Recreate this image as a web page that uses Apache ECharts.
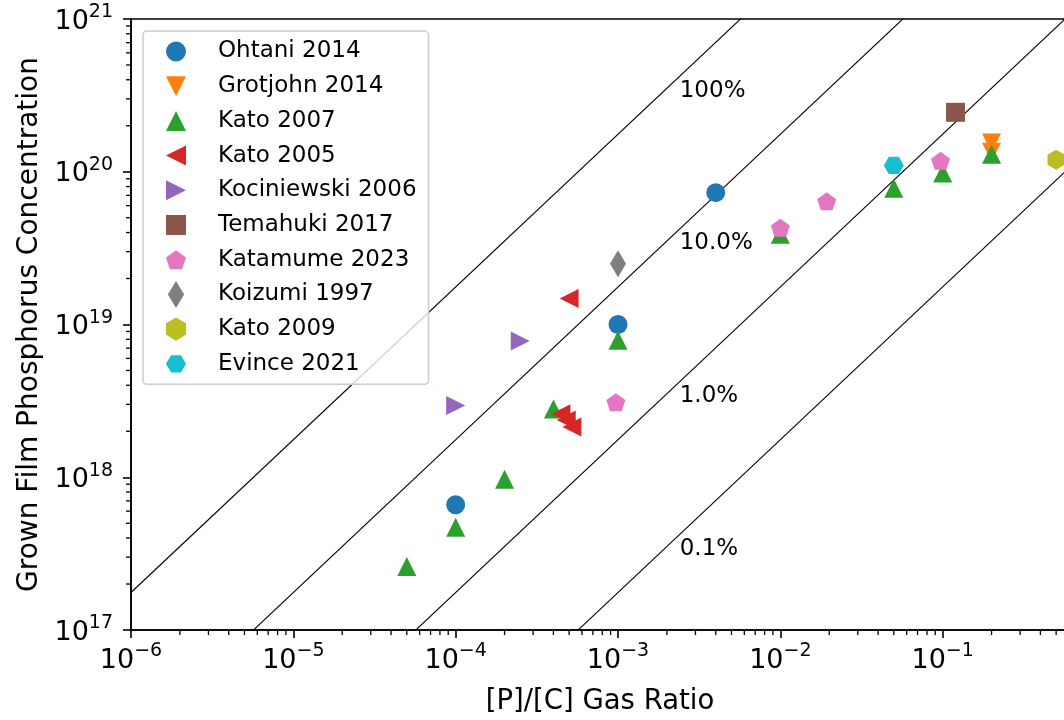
<!DOCTYPE html>
<html>
<head>
<meta charset="utf-8">
<script src="https://cdn.jsdelivr.net/npm/echarts@6/dist/echarts.min.js"></script>
<style>
  html, body { margin: 0; padding: 0; background: #ffffff; }
  #chart { width: 1064px; height: 720px; }
</style>
</head>
<body>
<div id="chart"></div>
<script>
// ---- data: [P]/[C] gas ratio vs. phosphorus concentration (cm^-3) ----
const ohtani2014     = [[0.004, 7.3e19], [1e-3, 1.0e19], [1e-4, 6.6e17]];
const grotjohn2014   = [[0.2, 1.54e20], [0.2, 1.34e20]];
const kato2007       = [[5e-5, 2.6e17], [1e-4, 4.7e17], [2e-4, 9.7e17], [4e-4, 2.8e18],
                        [1e-3, 7.9e18], [1e-2, 3.9e19], [0.05, 7.8e19], [0.1, 9.8e19], [0.2, 1.3e20]];
const kato2005       = [[5e-4, 1.48e19], [4.45e-4, 2.6e18], [4.8e-4, 2.37e18], [5.2e-4, 2.13e18]];
const kociniewski2006= [[2.5e-4, 7.8e18], [1e-4, 2.95e18]];
const temahuki2017   = [[0.12, 2.45e20]];
const katamume2023   = [[9.7e-4, 3.1e18], [1e-2, 4.3e19], [0.0193, 6.4e19], [0.097, 1.18e20]];
const koizumi1997    = [[1e-3, 2.5e19]];
const kato2009       = [[0.5, 1.2e20]];
const evince2021     = [[0.05, 1.1e20]];

// incorporation-efficiency guide lines: [P]film = eff * n_C * [P]/[C]
const CARBON_DENSITY = 1.76e23;
const efficiencies   = [1, 0.1, 0.01, 0.001];
const effLabels      = ['100%', '10.0%', '1.0%', '0.1%'];
const effLabelX      = 2.4e-3;
const effLabelY      = [3.4e20, 3.4e19, 3.4e18, 3.4e17];

// axis ranges
const X_MIN = 1e-6, X_MAX = 0.6;
const Y_MIN = 1e17, Y_MAX = 1e21;

const COLORS = ['#1f77b4', '#ff7f0e', '#2ca02c', '#d62728', '#9467bd',
                '#8c564b', '#e377c2', '#7f7f7f', '#bcbd22', '#17becf'];

// marker shapes
const SYM = {
  triDown:  'path://M-100,-100 L100,-100 L0,100 Z',
  triUp:    'path://M0,-100 L100,100 L-100,100 Z',
  triLeft:  'path://M-100,0 L100,-100 L100,100 Z',
  triRight: 'path://M100,0 L-100,-100 L-100,100 Z',
  square:   'path://M-100,-100 L100,-100 L100,100 L-100,100 Z',
  pentagon: 'path://M0,-100 L95.1,-30.9 L58.8,80.9 L-58.8,80.9 L-95.1,-30.9 Z',
  thinDiamond: 'path://M0,-100 L60,0 L0,100 L-60,0 Z',
  hexUp:    'path://M0,-100 L86.6,-50 L86.6,50 L0,100 L-86.6,50 L-86.6,-50 Z',
  hexFlat:  'path://M-100,0 L-50,-86.6 L50,-86.6 L100,0 L50,86.6 L-50,86.6 Z'
};

const groups = [
  { name: 'Ohtani 2014',      data: ohtani2014,      symbol: 'circle',        size: 19 },
  { name: 'Grotjohn 2014',    data: grotjohn2014,    symbol: SYM.triDown,     size: [19, 19] },
  { name: 'Kato 2007',        data: kato2007,        symbol: SYM.triUp,       size: [19, 19] },
  { name: 'Kato 2005',        data: kato2005,        symbol: SYM.triLeft,     size: [19, 19] },
  { name: 'Kociniewski 2006', data: kociniewski2006, symbol: SYM.triRight,    size: [19, 19] },
  { name: 'Temahuki 2017',    data: temahuki2017,    symbol: SYM.square,      size: [19, 19] },
  { name: 'Katamume 2023',    data: katamume2023,    symbol: SYM.pentagon,    size: [19, 18] },
  { name: 'Koizumi 1997',     data: koizumi1997,     symbol: SYM.thinDiamond, size: [16, 27] },
  { name: 'Kato 2009',        data: kato2009,        symbol: SYM.hexUp,       size: [17.3, 20] },
  { name: 'Evince 2021',      data: evince2021,      symbol: SYM.hexFlat,     size: [20, 17.3] }
];

const FONT = 'DejaVu Sans';

function powLabel(v) {
  const e = Math.round(Math.log10(v));
  const s = e < 0 ? '\u2212' + (-e) : String(e);
  return '{b|10}{s|' + s + '}';
}
const richLabel = {
  b: { fontSize: 27, fontFamily: FONT, color: '#000', lineHeight: 32, verticalAlign: 'bottom' },
  s: { fontSize: 19, fontFamily: FONT, color: '#000', lineHeight: 20, verticalAlign: 'top' }
};

// minor tick positions (2..9 x 10^n)
function minorTicks(lo, hi) {
  const out = [];
  for (let e = Math.floor(Math.log10(lo)); e <= Math.ceil(Math.log10(hi)); e++) {
    for (let k = 2; k <= 9; k++) {
      const v = k * Math.pow(10, e);
      if (v > lo && v < hi) out.push(v);
    }
  }
  return out;
}
const xMinor = minorTicks(X_MIN, X_MAX);
const yMinor = minorTicks(Y_MIN, Y_MAX);

const series = [];

// guide lines
efficiencies.forEach(function (eff) {
  series.push({
    type: 'line',
    name: 'eff' + eff,
    data: [[X_MIN, eff * CARBON_DENSITY * X_MIN], [X_MAX, eff * CARBON_DENSITY * X_MAX]],
    symbol: 'none',
    silent: true,
    clip: true,
    lineStyle: { color: '#000', width: 1.1 },
    z: 1
  });
});

// guide line labels
series.push({
  type: 'scatter',
  name: 'effLabels',
  data: effLabels.map(function (t, i) { return [effLabelX, effLabelY[i], t]; }),
  symbolSize: 0,
  silent: true,
  itemStyle: { opacity: 1 },
  label: {
    show: true,
    position: 'right',
    distance: 0,
    opacity: 1,
    formatter: function (p) { return p.value[2]; },
    fontSize: 23,
    fontFamily: FONT,
    color: '#000'
  },
  z: 1
});

// data sets
groups.forEach(function (g, i) {
  series.push({
    type: 'scatter',
    name: g.name,
    data: g.data,
    symbol: g.symbol,
    symbolSize: g.size,
    itemStyle: { color: COLORS[i], opacity: 1 },
    emphasis: { disabled: true },
    z: 3
  });
});

// minor ticks on the x axis (outward, below axis line)
series.push({
  type: 'custom',
  name: 'xMinorTicks',
  silent: true,
  data: xMinor.map(function (v) { return [v]; }),
  renderItem: function (params, api) {
    const p = api.coord([api.value(0), Y_MIN]);
    return { type: 'line', shape: { x1: p[0], y1: p[1], x2: p[0], y2: p[1] + 5 },
             style: { stroke: '#000', lineWidth: 1.3 } };
  },
  encode: { x: 0 },
  z: 5
});
// minor ticks on the y axis (outward, left of axis line)
series.push({
  type: 'custom',
  name: 'yMinorTicks',
  silent: true,
  data: yMinor.map(function (v) { return [X_MIN, v]; }),
  renderItem: function (params, api) {
    const p = api.coord([X_MIN, api.value(1)]);
    return { type: 'line', shape: { x1: p[0], y1: p[1], x2: p[0] - 5, y2: p[1] },
             style: { stroke: '#000', lineWidth: 1.3 } };
  },
  encode: { x: 0, y: 1 },
  z: 5
});

const chart = echarts.init(document.getElementById('chart'), null, { renderer: 'canvas' });
chart.setOption({
  animation: false,
  backgroundColor: '#ffffff',
  grid: {
    left: 131, top: 19, width: 938, bottom: 90,
    outerBoundsMode: 'none',
    containLabel: false,
    show: true, borderColor: '#000', borderWidth: 1.6, backgroundColor: 'transparent'
  },
  xAxis: {
    type: 'log', logBase: 10, min: X_MIN, max: X_MAX,
    name: '[P]/[C] Gas Ratio', nameLocation: 'middle', nameGap: 58,
    nameTextStyle: { fontSize: 27.5, fontFamily: FONT, color: '#000' },
    axisLine: { show: true, onZero: false, lineStyle: { color: '#000', width: 1.6 } },
    axisTick: { show: true, inside: false, length: 8, lineStyle: { color: '#000', width: 1.6 } },
    axisLabel: { formatter: powLabel, rich: richLabel, margin: 12, showMaxLabel: false },
    splitLine: { show: false },
    minorTick: { show: false }
  },
  yAxis: {
    type: 'log', logBase: 10, min: Y_MIN, max: Y_MAX,
    name: 'Grown Film Phosphorus Concentration', nameLocation: 'middle', nameGap: 86,
    nameRotate: 90,
    nameTextStyle: { fontSize: 28, fontFamily: FONT, color: '#000' },
    axisLine: { show: true, onZero: false, lineStyle: { color: '#000', width: 1.6 } },
    axisTick: { show: true, inside: false, length: 8, lineStyle: { color: '#000', width: 1.6 } },
    axisLabel: { formatter: powLabel, rich: richLabel, margin: 18 },
    splitLine: { show: false }
  },
  legend: {
    data: groups.map(function (g) { return g.name; }),
    orient: 'vertical',
    left: 143, top: 31,
    itemWidth: 20, itemHeight: 27, itemGap: 7.7,
    padding: [7, 12, 7, 23],
    backgroundColor: 'rgba(255,255,255,0.8)',
    borderColor: '#cccccc', borderWidth: 1.5, borderRadius: 4,
    selectedMode: false,
    textStyle: { fontSize: 23, fontFamily: FONT, color: '#000', lineHeight: 27, padding: [0, 0, 0, 27] },
    z: 10
  },
  series: series
});
</script>
</body>
</html>
